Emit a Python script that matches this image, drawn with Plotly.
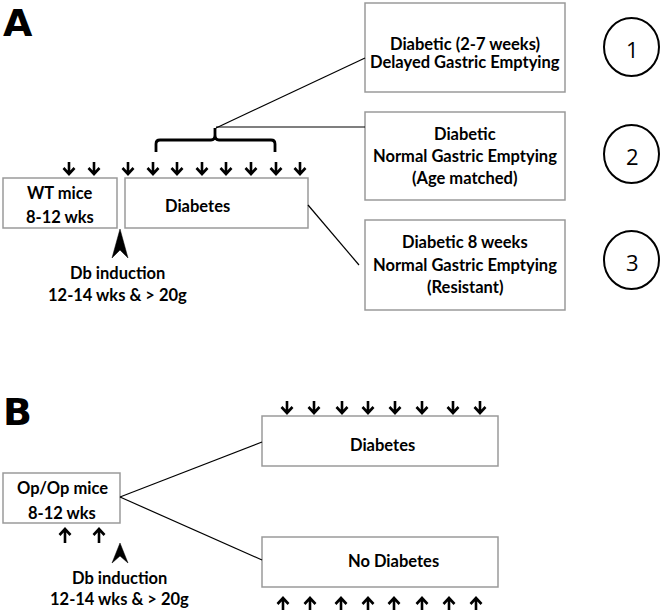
import plotly.graph_objects as go

# ---- content ----
panel_labels = ["A", "B"]
right_box_lines = [
    ["Diabetic (2-7 weeks)", "Delayed Gastric Emptying"],
    ["Diabetic", "Normal Gastric Emptying", "(Age matched)"],
    ["Diabetic 8 weeks", "Normal Gastric Emptying", "(Resistant)"],
]
circle_labels = ["1", "2", "3"]
wt_lines = ["WT mice", "8-12 wks"]
op_lines = ["Op/Op mice", "8-12 wks"]
induction_lines = ["Db induction", "12-14 wks & > 20g"]
diab_label = "Diabetes"
nodiab_label = "No Diabetes"

# arrow positions (x, px)
a_down_x = [69, 94, 128, 153, 177, 202, 226, 251, 276, 300]
b_down_x = [287, 314, 342, 368, 395, 422, 453, 480]
b_up_x = [283, 310, 341, 368, 394, 422, 449, 476]
b_op_up_x = [65, 99]

W, H = 664, 614
FONT = "Lato"
FS = 16.5
BOX = "#9a9a9a"

shapes = []
ann = []

def rect(x0, y0, x1, y1):
    shapes.append(dict(type="rect", x0=x0, y0=y0, x1=x1, y1=y1,
                       line=dict(color=BOX, width=1.5), fillcolor="white", layer="below"))

def line(x0, y0, x1, y1, w=1.2):
    shapes.append(dict(type="line", x0=x0, y0=y0, x1=x1, y1=y1,
                       line=dict(color="black", width=w)))

def text(x, y, s, size=FS, bold=True, family=FONT):
    ann.append(dict(x=x, y=y, text=f"<b>{s}</b>" if bold else s, showarrow=False,
                    xanchor="center", yanchor="middle",
                    font=dict(family=family, size=size, color="black")))

def arrow(x, y_tail, y_tip):
    d = 1 if y_tip > y_tail else -1
    p = (f"M {x},{y_tail} L {x},{y_tip} "
         f"M {x-5.5},{y_tip - d*6} L {x},{y_tip} L {x+5.5},{y_tip - d*6}")
    shapes.append(dict(type="path", path=p, line=dict(color="black", width=2.6)))

def chevron(x, y_tip, y_base, notch):
    p = f"M {x},{y_tip} L {x+8},{y_base} L {x},{notch} L {x-8},{y_base} Z"
    shapes.append(dict(type="path", path=p, fillcolor="black", line=dict(color="black", width=0.5)))

# ---- Panel A ----
ann.append(dict(x=18, y=23, text="<b>A</b>", showarrow=False, xanchor="center", yanchor="middle",
                font=dict(family="DejaVu Sans", size=38, color="black")))
rect(3, 178, 117, 228)
text(60, 193, wt_lines[0]); text(60, 217, wt_lines[1])
rect(125, 178, 308, 228)
text(197, 206, diab_label)
for x in a_down_x:
    arrow(x, 162, 174)
chevron(120, 229, 258, 250)
text(117, 273, induction_lines[0]); text(117, 295, induction_lines[1])

# bracket
shapes.append(dict(type="path",
                   path="M 156,152 L 156,144 Q 156,140 160,140 L 211,140 Q 215,140 215,135 L 215,128 "
                        "L 215,135 Q 215,140 219,140 L 271,140 Q 275,140 275,144 L 275,152",
                   line=dict(color="black", width=2.8)))
line(216, 128, 365, 58)
line(216, 127, 365, 127)
line(308, 205, 359, 265)

right_boxes = [(365, 3, 565, 92), (365, 112, 565, 200), (365, 220, 565, 310)]
line_ys = [[44, 62], [134, 156, 178], [242, 265, 287]]
for (x0, y0, x1, y1), lines_, ys in zip(right_boxes, right_box_lines, line_ys):
    rect(x0, y0, x1, y1)
    for s, y in zip(lines_, ys):
        text((x0 + x1) / 2, y, s)

circle_cy = [47, 154, 260]
for lab, cy in zip(circle_labels, circle_cy):
    shapes.append(dict(type="circle", x0=604, x1=659, y0=cy - 29, y1=cy + 29,
                       line=dict(color="black", width=2)))
    text(632, cy + 2, lab, size=22, bold=False, family="Open Sans")

# ---- Panel B ----
ann.append(dict(x=17, y=412, text="<b>B</b>", showarrow=False, xanchor="center", yanchor="middle",
                font=dict(family="DejaVu Sans", size=38, color="black")))
rect(3, 473, 120, 523)
text(62, 488, op_lines[0]); text(62, 513, op_lines[1])
for x in b_op_up_x:
    arrow(x, 543, 529)
chevron(120, 543, 563, 556)
text(119, 578, induction_lines[0]); text(119, 599, induction_lines[1])

line(120, 497, 262, 442)
line(120, 497, 262, 560)
rect(262, 416, 498, 466)
text(382, 445, diab_label)
rect(262, 537, 498, 587)
text(393, 561, nodiab_label)
for x in b_down_x:
    arrow(x, 401, 413)
for x in b_up_x:
    arrow(x, 610, 598)

fig = go.Figure()
fig.update_layout(
    width=W, height=H, margin=dict(l=0, r=0, t=0, b=0),
    paper_bgcolor="white", plot_bgcolor="white",
    xaxis=dict(range=[0, W], visible=False, fixedrange=True),
    yaxis=dict(range=[H, 0], visible=False, fixedrange=True),
    shapes=shapes, annotations=ann, showlegend=False,
)
fig.write_html("out.html", config={"displayModeBar": False},
               post_script="document.body.style.margin='0';document.body.style.overflow='hidden';")
